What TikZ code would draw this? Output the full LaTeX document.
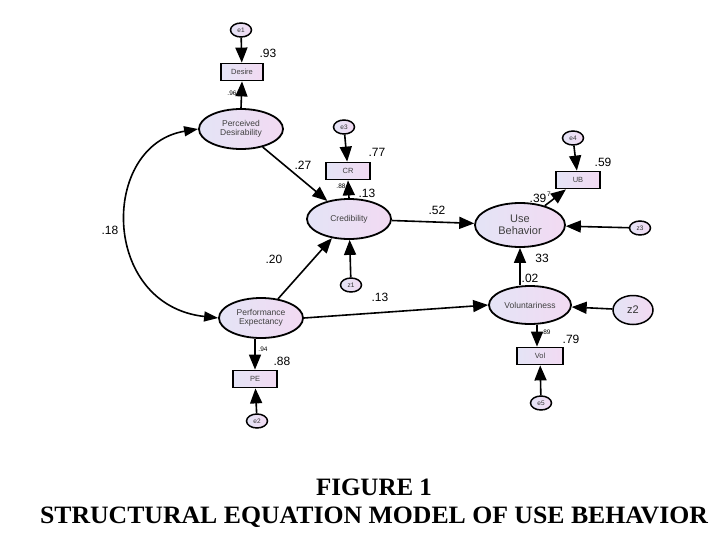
\documentclass[tikz,border=0pt]{standalone}
\usepackage{fontspec}
\setmainfont{Liberation Serif}
\setsansfont{Liberation Sans}
\usetikzlibrary{shapes.geometric,arrows.meta}
\definecolor{lavL}{RGB}{228,228,246}
\definecolor{lavR}{RGB}{242,218,242}
\begin{document}
\begin{tikzpicture}[x=1pt,y=-1pt,
  latent/.style={ellipse,draw=black,line width=1.8pt,left color=lavL,right color=lavR,inner sep=0pt,align=center,font=\sffamily\fontsize{8.5}{9}\selectfont,text=black!75},
  err/.style={ellipse,draw=black,line width=1.5pt,left color=lavL,right color=lavR,inner sep=0pt,minimum width=21pt,minimum height=14pt,font=\sffamily\fontsize{6.5}{7}\selectfont,text=black!80},
  obs/.style={rectangle,draw=black,line width=1.8pt,left color=lavL,right color=lavR,inner sep=0pt,minimum width=44pt,minimum height=17pt,font=\sffamily\fontsize{7.5}{8}\selectfont,text=black!75},
  arr/.style={line width=1.6pt,-{Triangle[length=15pt,width=12pt]}},
  darr/.style={line width=1.6pt,{Triangle[length=14pt,width=10pt]}-{Triangle[length=14pt,width=10pt]}},
  lab/.style={font=\sffamily\fontsize{12}{14}\selectfont,inner sep=0pt},
  slab/.style={font=\sffamily\fontsize{6.5}{7}\selectfont,inner sep=0pt},
  captext/.style={font=\rmfamily\bfseries\fontsize{25}{28}\selectfont,inner sep=0pt}
]
\useasboundingbox (0,0) rectangle (715,546);
% nodes
\node[err] (e1) at (241,30) {e1};
\node[obs,minimum width=42pt] (desire) at (242,72) {Desire};
\node[latent,minimum width=84pt,minimum height=40pt] (pd) at (241,129) {Perceived\\Desirability};
\node[err] (e3) at (344,127) {e3};
\node[obs] (cr) at (348,171) {CR};
\node[latent,minimum width=84pt,minimum height=40pt] (cred) at (349,219) {Credibility};
\node[err] (z1) at (351,285) {z1};
\node[err] (e4) at (573,138) {e4};
\node[obs] (ub) at (578,180) {UB};
\node[latent,minimum width=90pt,minimum height=44pt,font=\sffamily\fontsize{11}{12}\selectfont] (use) at (520,225) {Use\\Behavior};
\node[err] (z3) at (640,228) {z3};
\node[latent,minimum width=82pt,minimum height=38pt] (vol) at (530,305) {Voluntariness};
\node[err,minimum width=40pt,minimum height=29pt,font=\sffamily\fontsize{11}{12}\selectfont] (z2) at (633,310) {z2};
\node[obs,minimum width=46pt] (volb) at (540,356) {Vol};
\node[err] (e5) at (541,403) {e5};
\node[latent,minimum width=84pt,minimum height=40pt] (pe) at (261,318) {Performance\\Expectancy};
\node[obs] (peb) at (255,379) {PE};
\node[err] (e2) at (257,421) {e2};
% connectors
\draw[arr] (e1) -- (desire);
\draw[arr] (pd.north) -- (desire.south);
\draw[arr] (e3) -- (cr);
\draw[arr] (cred.north) -- (cr.south);
\draw[arr] (z1) -- (cred);
\draw[arr] (pd) -- (cred);
\draw[arr] (pe) -- (cred);
\draw[arr] (cred) -- (use);
\draw[arr] (use) -- (ub);
\draw[arr] (e4) -- (ub);
\draw[arr] (z3) -- (use);
\draw[arr] (vol.north -| use.south) -- (use.south);
\draw[arr] (z2) -- (vol);
\draw[arr] (pe.east) -- (vol.west);
\draw[arr] ([xshift=7pt]vol.south) -- ([xshift=-3pt]volb.north);
\draw[arr] (e5) -- (volb);
\draw[arr] (pe.south -| peb.north) -- (peb.north);
\draw[arr] (e2) -- (peb);
\draw[darr] (pd.west) .. controls (100,145) and (100,305) .. (pe.west);
% labels
\node[lab] (l93) at (268,53) {.93};
\node[slab] (l96) at (232,93) {.96};
\node[lab] (l27) at (303,165) {.27};
\node[lab] (l77) at (377,152) {.77};
\node[slab] (l88a) at (341,186) {.88};
\node[lab] (l13a) at (367,193) {.13};
\node[lab] (l52) at (437,210) {.52};
\node[lab] (l59) at (603,162) {.59};
\node[lab] (l39) at (538,198) {.39};
\node[slab] (l7) at (549,194) {7};
\node[lab] (l33) at (542,258) {33};
\node[lab] (l02) at (530,278) {.02};
\node[lab] (l79) at (571,339) {.79};
\node[slab] (l89) at (546,332) {.89};
\node[lab] (l20) at (274,259) {.20};
\node[lab] (l13b) at (380,297) {.13};
\node[lab] (l18) at (110,230) {.18};
\node[lab] (l88b) at (282,361) {.88};
\node[slab] (l94) at (263,349) {.94};
% caption
\node[captext] (t1) at (374,487) {FIGURE 1};
\node[captext,xscale=1.03] (t2) at (374,517) {STRUCTURAL EQUATION MODEL OF USE BEHAVIOR};
\end{tikzpicture}
\end{document}
